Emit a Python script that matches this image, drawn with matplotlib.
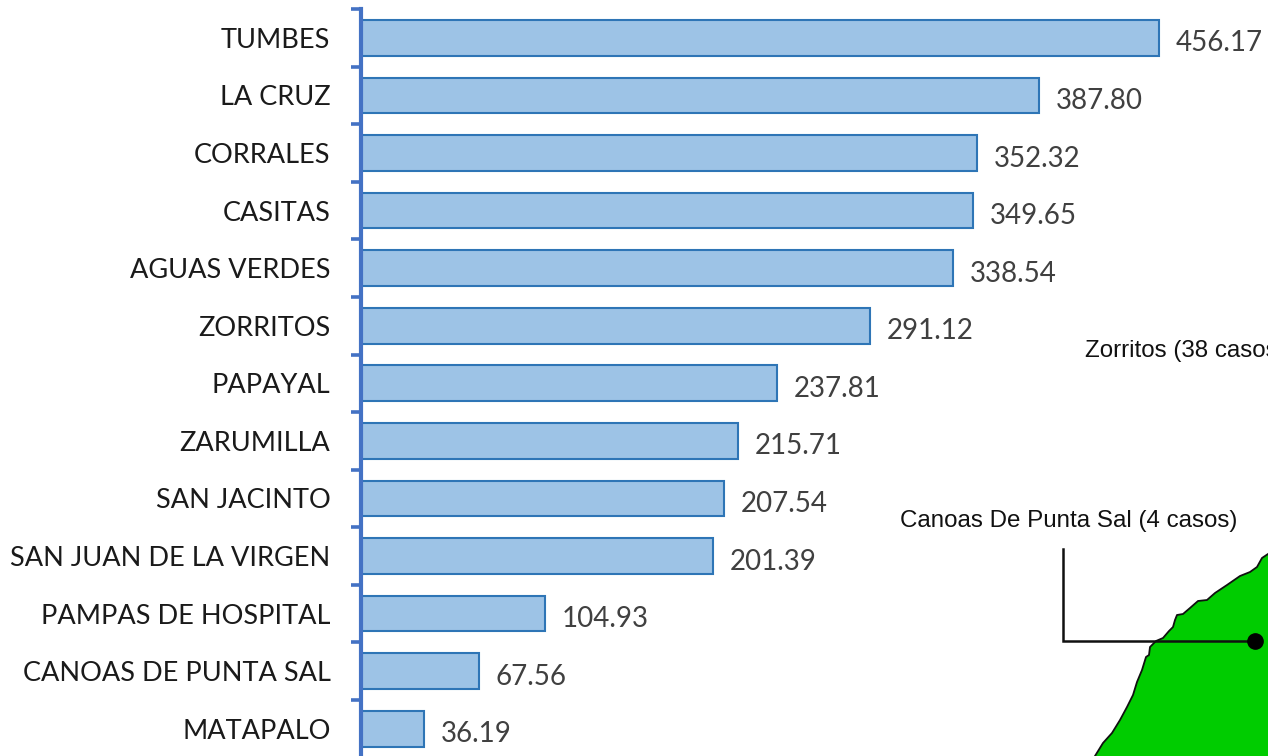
import matplotlib
matplotlib.use("Agg")
import matplotlib.pyplot as plt
from matplotlib.patches import Polygon

categories = ["TUMBES", "LA CRUZ", "CORRALES", "CASITAS", "AGUAS VERDES", "ZORRITOS", "PAPAYAL",
              "ZARUMILLA", "SAN JACINTO", "SAN JUAN DE LA VIRGEN", "PAMPAS DE HOSPITAL",
              "CANOAS DE PUNTA SAL", "MATAPALO"]
values = [456.17, 387.80, 352.32, 349.65, 338.54, 291.12, 237.81, 215.71, 207.54, 201.39, 104.93, 67.56, 36.19]
coast_x = [1095, 1103, 1112, 1120, 1127, 1133, 1137, 1142, 1146, 1149, 1150, 1156, 1163, 1169, 1173, 1175, 1177,
           1183, 1190, 1198, 1207, 1215, 1227, 1240, 1250, 1257, 1262, 1268]
coast_y = [756, 743, 733, 720, 707, 695, 682, 670, 657, 655, 647, 641, 638, 631, 627, 620, 615,
           614, 608, 601, 600, 593, 585, 576, 572, 567, 558, 554]

W, H = 1268, 756
fig = plt.figure(figsize=(W / 100, H / 100), dpi=100)

# map inset in pixel coordinates
bg = fig.add_axes([0, 0, 1, 1], zorder=0)
bg.set_xlim(0, W); bg.set_ylim(H, 0); bg.axis("off")
poly_xy = list(zip(coast_x, coast_y)) + [(W + 5, 554), (W + 5, H + 5), (1095, H + 5)]
bg.add_patch(Polygon(poly_xy, closed=True, facecolor="#00CC00", edgecolor="none"))
bg.plot(coast_x, coast_y, color="#101010", lw=1.3, solid_joinstyle="round")
bg.plot([1063, 1063, 1255], [549, 640.5, 640.5], color="#101010", lw=1.8, solid_joinstyle="miter")
bg.plot([1255], [640.5], "o", color="black", ms=11)
bg.text(1085, 351, "Zorritos (38 casos)", family="Liberation Sans", fontsize=17.4, color="#111111",
        va="center", ha="left", clip_on=True)
bg.text(900, 521, "Canoas De Punta Sal (4 casos)", family="Liberation Sans", fontsize=17.4, color="#111111",
        va="center", ha="left")

# bars
top, bottom, left = 9.0, 757.6, 361.0
px_per_unit = 1.7494
ax = fig.add_axes([left / W, 1 - bottom / H, (W - left) / W, (bottom - top) / H], zorder=1)
ax.patch.set_alpha(0)
n = len(categories)
pos = list(range(n))
ax.barh(pos, values, height=0.62, color="#9DC3E6", edgecolor="#2E75B6", linewidth=1.5)
ax.set_xlim(0, (W - left) / px_per_unit)
ax.set_ylim(n - 0.5, -0.5)
ax.set_yticks(pos)
ax.set_yticklabels(categories, family="Lato", fontsize=19.5, color="#1A1A1A")
ax.set_yticks([p - 0.5 for p in pos] + [n - 0.5], minor=True)
ax.tick_params(axis="y", which="major", length=0, pad=22)
ax.tick_params(axis="y", which="minor", length=7, width=2.6, color="#4472C4")
ax.set_xticks([])
for s in ("top", "right", "bottom"):
    ax.spines[s].set_visible(False)
ax.spines["left"].set_color("#4472C4")
ax.spines["left"].set_linewidth(3)
for p, v in zip(pos, values):
    ax.annotate(f"{v:.2f}", (v, p), xytext=(12, -4), textcoords="offset points", family="Lato",
                fontsize=20, color="#404040", va="center", ha="left", annotation_clip=False)
fig.savefig("out.png", dpi=100)
